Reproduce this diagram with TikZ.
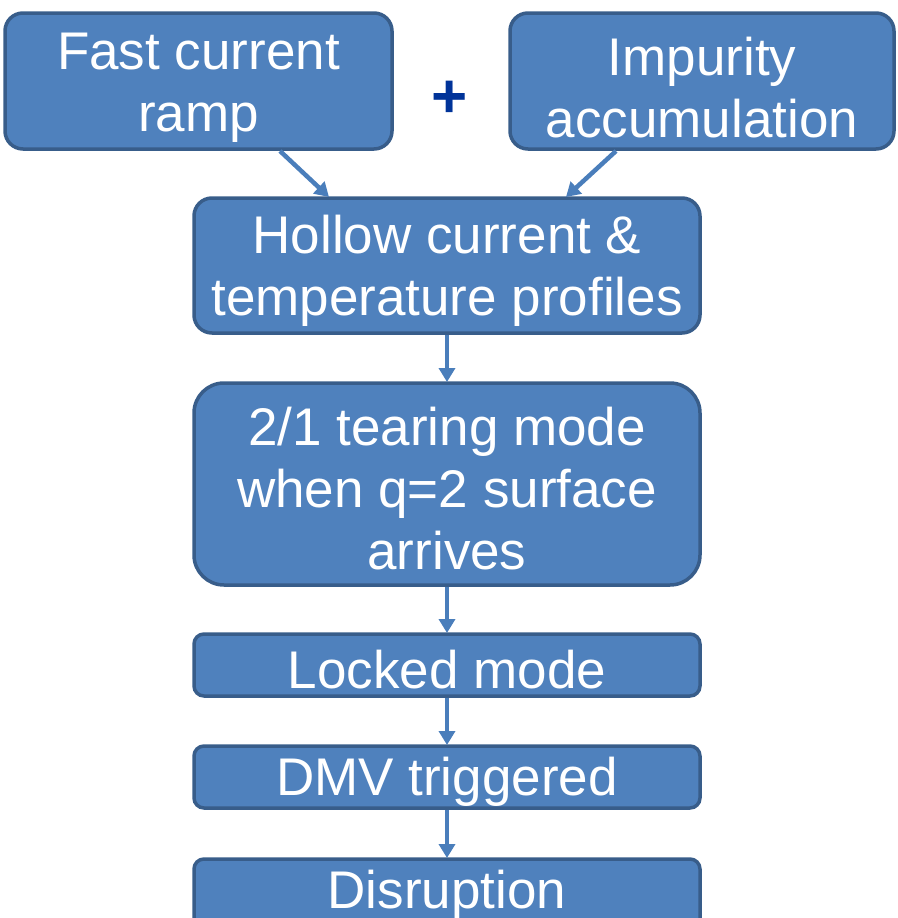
\documentclass[tikz,border=0pt]{standalone}
\usepackage{fontspec}
\setmainfont{Liberation Sans}
\usetikzlibrary{arrows.meta}
\definecolor{boxfill}{HTML}{4F81BD}
\definecolor{boxline}{HTML}{385D8A}
\definecolor{arr}{HTML}{4A7EBB}
\definecolor{plusc}{HTML}{003399}
\begin{document}
\begin{tikzpicture}[x=1pt,y=-1pt,
  flowbox/.style={draw=boxline,fill=boxfill,line width=3.5pt,rounded corners=18pt},
  lbl/.style={text=white,font=\fontsize{53}{62}\selectfont,align=center,inner sep=0pt},
  conn/.style={draw=arr,line width=4.5pt,-{Triangle[width=16pt,length=14pt]}}]
\useasboundingbox (0,0) rectangle (897,918);
\clip (0,0) rectangle (897,918);
\draw[flowbox] (5,13) rectangle (392,149);
\node[lbl] (a) at (198.5,88) {Fast current\\ramp};
\draw[flowbox] (510,13) rectangle (894,149);
\node[lbl] (b) at (702,88) {Impurity\\accumulation};
\node[text=plusc,font=\fontsize{62}{62}\selectfont\bfseries] (plus) at (450,99) {+};
\draw[flowbox] (194,198) rectangle (700,333);
\node[lbl] (c) at (447,271) {Hollow current \&\\temperature profiles};
\draw[flowbox,rounded corners=30pt] (194,383) rectangle (700,585);
\node[lbl] (d) at (447,489) {2/1 tearing mode\\when q=2 surface\\arrives};
\draw[flowbox,rounded corners=10pt] (194,634) rectangle (700,696);
\node[lbl] (e) at (447,670) {Locked mode};
\draw[flowbox,rounded corners=10pt] (194,746) rectangle (700,808);
\node[lbl] (f) at (447,782) {DMV triggered};
\draw[flowbox,rounded corners=10pt] (194,859) rectangle (700,960);
\node[lbl] (g) at (447,895) {Disruption};
\coordinate (a1) at (280,151);
\coordinate (a2) at (329,197);
\coordinate (b1) at (616,151);
\coordinate (b2) at (566,197);
\coordinate (c1) at (447,335);
\coordinate (c2) at (447,382);
\coordinate (d1) at (447,587);
\coordinate (d2) at (447,633);
\coordinate (e1) at (447,698);
\coordinate (e2) at (447,745);
\coordinate (f1) at (447,810);
\coordinate (f2) at (447,858);
\draw[conn] (a1) -- (a2);
\draw[conn] (b1) -- (b2);
\draw[conn] (c1) -- (c2);
\draw[conn] (d1) -- (d2);
\draw[conn] (e1) -- (e2);
\draw[conn] (f1) -- (f2);
\end{tikzpicture}
\end{document}
